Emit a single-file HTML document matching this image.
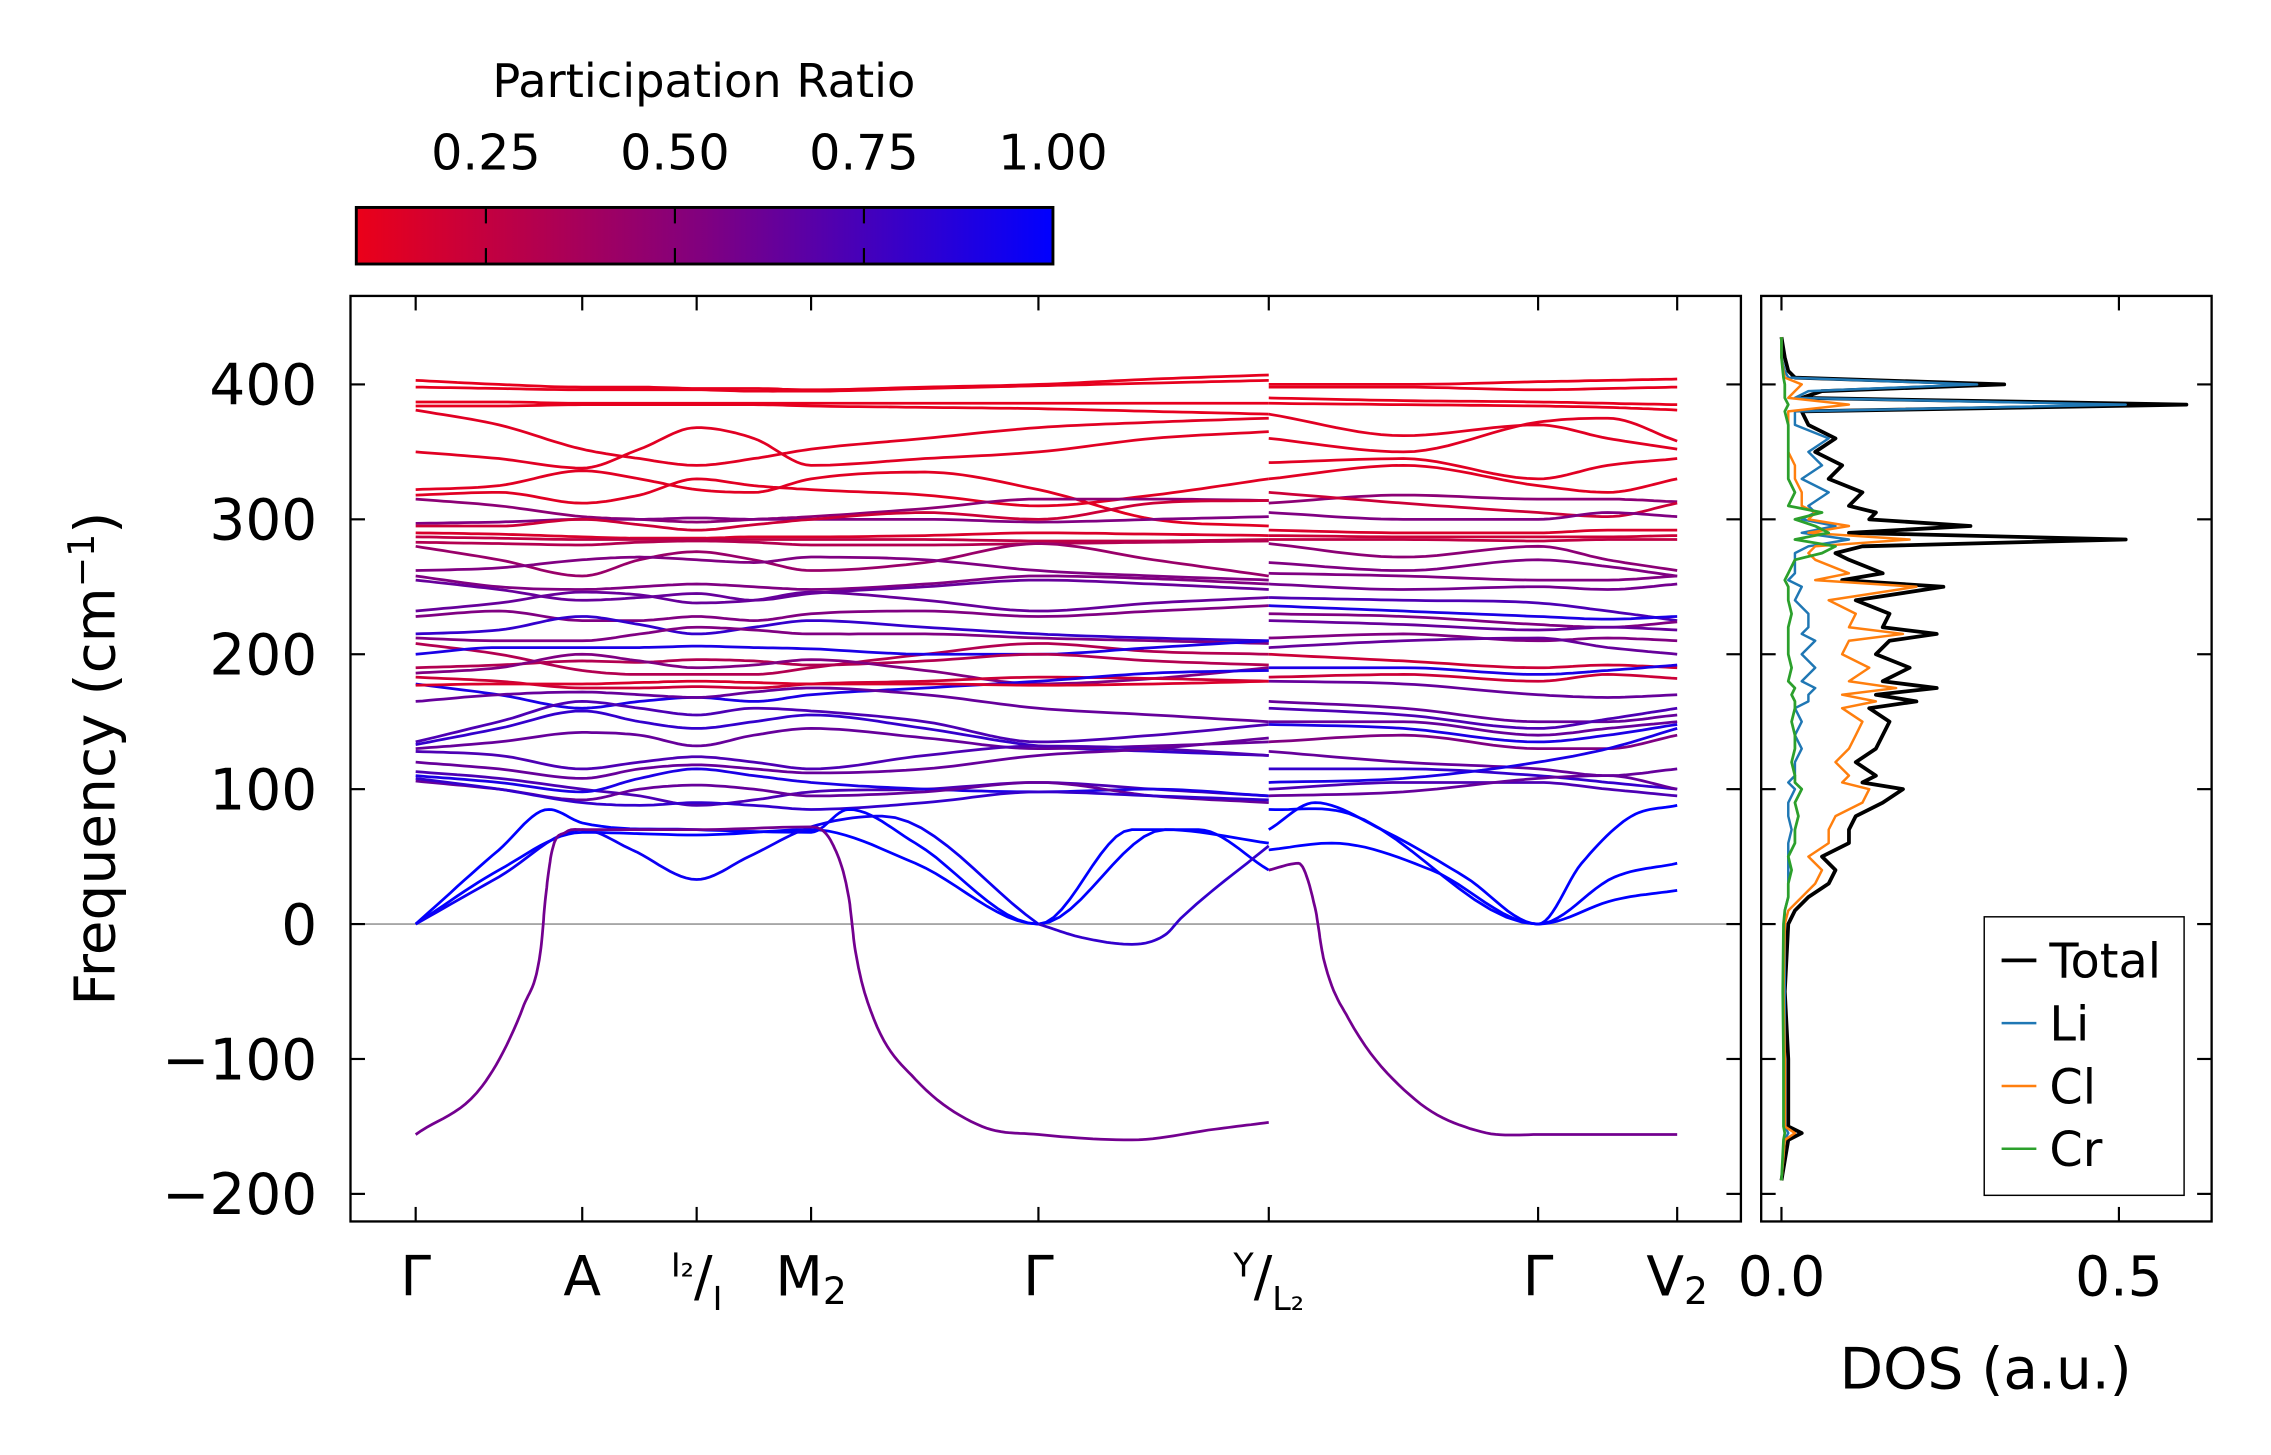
<!DOCTYPE html>
<html><head><meta charset="utf-8"><style>
html,body{margin:0;padding:0;background:#fff;}
svg{display:block;font-family:"DejaVu Sans","Liberation Sans",sans-serif;}
</style></head>
<body>
<svg id="fig" width="2271" height="1455" viewBox="0 0 1568 1003" preserveAspectRatio="none" xmlns="http://www.w3.org/2000/svg">
<defs>
<linearGradient id="cbg" x1="0" x2="1" y1="0" y2="0">
<stop offset="0" stop-color="#eb0019"/><stop offset="0.5" stop-color="#800080"/><stop offset="1" stop-color="#0000ff"/>
</linearGradient>
<clipPath id="mainclip"><rect x="242" y="204" width="960" height="638"/></clipPath>
<clipPath id="dosclip"><rect x="1216" y="204" width="311" height="638"/></clipPath>
</defs>
<g>
<text x="486" y="67" font-size="32" text-anchor="middle">Participation Ratio</text>
<rect x="246" y="143" width="481" height="39" fill="url(#cbg)" stroke="#000" stroke-width="2"/>
<g id="cbticks"></g>
</g>
<g id="main"></g>
<g id="dos"></g>
</svg>
<script>
// ---------- data ----------
const cbTicks = [0.25, 0.50, 0.75, 1.00];
const cbLabels = ["0.25", "0.50", "0.75", "1.00"];
const yTicks = [-200, -100, 0, 100, 200, 300, 400];
const yTickLabels = ["\u2212200", "\u2212100", "0", "100", "200", "300", "400"];
const kTicks = [0, 1.0, 1.687, 2.374, 3.739, 5.122, 6.739, 7.574];
const kLeft = [0, 0.5, 1.0, 1.344, 1.687, 2.03, 2.374, 3.057, 3.739, 4.43, 5.122];
const kRight = [5.122, 5.93, 6.739, 7.157, 7.574];
const bandsLeft = [
[403,400,398,398,397,397,396,398,400,404,407],
[398,397,396,396,396,395,395,397,399,401,403],
[387,387,386,386,386,386,386,386,386,386,386],
[384,384,385,385,385,385,384,383,382,380,378],
[381,370,352,345,340,345,352,360,368,372,375],
[350,345,338,352,368,360,340,345,350,360,365],
[322,325,336,330,322,320,330,335,322,300,295],
[318,320,312,318,330,325,322,318,310,318,330],
[315,310,302,300,298,300,302,308,315,315,314],
[297,298,300,300,301,300,300,300,298,300,302],
[295,295,300,296,292,296,300,305,300,312,314],
[290,289,287,286,286,287,287,288,290,289,288],
[287,286,285,285,285,285,285,285,284,284,285],
[283,282,281,283,284,283,281,281,282,283,284],
[280,270,258,270,276,270,262,268,282,270,258],
[262,264,270,272,270,268,272,270,262,258,255],
[258,250,248,250,252,250,248,252,258,256,252],
[255,248,240,242,245,240,245,250,255,252,248],
[232,238,246,244,238,240,246,240,232,238,242],
[228,232,225,225,228,225,230,232,228,232,236],
[215,218,228,222,215,220,225,220,215,212,210],
[212,210,210,215,220,218,215,215,212,210,208],
[208,200,188,185,185,185,190,200,208,202,200],
[200,205,205,205,206,205,204,200,200,205,210],
[190,192,195,194,196,195,192,195,200,195,192],
[186,190,200,195,190,192,196,188,178,182,190],
[183,180,175,175,176,175,178,180,183,182,180],
[178,170,160,165,168,165,170,175,180,186,188],
[177,178,178,179,180,179,178,178,177,178,180],
[165,170,172,170,168,172,175,170,160,155,150],
[135,150,165,160,155,160,158,150,135,140,148],
[133,145,158,150,145,150,155,145,132,128,125],
[130,135,142,140,132,140,145,138,130,132,135],
[128,125,115,120,124,120,115,125,132,130,125],
[120,115,108,115,118,115,112,115,125,130,138],
[113,108,100,95,88,92,98,100,105,100,95],
[110,105,98,108,115,110,105,100,98,100,95],
[106,100,92,100,103,100,95,98,105,95,90],
[108,100,90,88,90,88,85,90,98,95,92]
];
const ratioLeft = [.1,.1,.1,.1,.12,.12,.12,.12,.45,.5,.2,.15,.25,.3,.4,.5,.5,.6,.6,.5,.8,.5,.3,.9,.3,.5,.2,.9,.15,.6,.7,.8,.6,.7,.6,.7,.9,.6,.8];
const bandsRight = [
[400,400,402,403,404],[398,398,396,397,398],[390,388,387,386,385],[386,385,384,383,381],
[378,362,370,360,352],[360,350,372,375,358],[342,345,330,340,345],[330,340,325,320,330],
[312,318,315,315,313],[320,312,305,302,312],[305,300,300,305,302],[292,290,290,292,292],
[288,287,287,287,288],[285,285,284,285,285],[282,272,280,270,262],[268,262,270,265,258],
[260,258,255,255,258],[252,248,250,248,252],[242,240,238,232,225],[236,232,228,226,228],
[230,228,222,220,224],[225,222,218,220,218],[212,215,210,212,210],[205,210,212,205,200],
[200,195,190,192,190],[190,190,185,188,192],[183,185,180,185,182],[180,178,170,168,170],
[165,160,150,150,155],[160,155,145,152,160],[150,150,140,145,150],[148,145,135,140,148],
[135,140,130,130,140],[128,120,115,110,115],[115,115,110,105,100],[105,108,120,130,145],
[100,105,105,100,95],[95,98,108,110,100]
];
const ratioRight = [.1,.1,.1,.1,.12,.12,.12,.12,.45,.2,.5,.15,.2,.25,.45,.5,.5,.55,.7,.9,.5,.6,.5,.6,.2,.9,.2,.6,.6,.7,.6,.9,.5,.6,.8,.9,.7,.6];
// special branches: [k, frequency] pairs
const imagLeft = [[0,-156],[0.4,-120],[0.65,-60],[0.75,-20],[0.78,20],[0.82,55],[0.9,68],[1.0,70],[1.687,70],[2.374,72],[2.5,60],[2.6,20],[2.64,-20],[2.75,-70],[3.0,-115],[3.4,-150],[3.739,-156],[4.3,-160],[4.8,-152],[5.122,-147]];
const imagRight = [[5.122,40],[5.3,45],[5.4,12],[5.45,-25],[5.6,-70],[6.0,-130],[6.4,-154],[6.739,-156],[7.574,-156]];
const acLeft1 = [[0,0],[0.5,55],[0.8,85],[1.0,75],[1.687,70],[2.374,68],[2.6,85],[3.0,60],[3.739,0],[4.3,70],[4.7,70],[5.122,40]];
const acLeft2 = [[0,0],[0.5,40],[1.0,68],[1.687,66],[2.374,70],[3.0,45],[3.739,0],[4.5,70],[5.122,60]];
const acLeft3 = [[0,0],[0.5,35],[1.0,70],[1.3,55],[1.687,33],[2.0,50],[2.374,72],[2.8,80],[3.739,0]];
const acLeft4 = [[3.739,0],[4.0,-10],[4.3,-15],[4.5,-8],[4.6,5],[5.122,58]];
const acRight1 = [[5.122,70],[5.4,90],[5.8,70],[6.3,35],[6.739,0],[7.0,45],[7.3,80],[7.574,88]];
const acRight2 = [[5.122,55],[5.5,60],[6.1,40],[6.739,0],[7.2,35],[7.574,45]];
const acRight3 = [[5.122,85],[5.6,82],[6.739,0],[7.2,18],[7.574,25]];
// DOS
const dosFreq = [-190,-160,-155,-150,-100,-50,0,10,20,30,40,50,60,70,80,90,100,105,110,120,130,140,150,160,165,170,175,180,190,200,210,215,220,230,240,250,255,260,270,275,280,285,290,295,300,305,310,320,330,340,350,360,370,380,385,390,395,400,405,410,420,435];
const dosTotal = [0,.01,.03,.01,.01,.005,.01,.02,.04,.07,.08,.06,.1,.1,.11,.15,.18,.12,.14,.11,.14,.15,.16,.13,.2,.14,.23,.15,.19,.14,.16,.23,.15,.16,.11,.24,.09,.15,.1,.08,.12,.51,.1,.28,.13,.14,.1,.12,.07,.09,.05,.08,.04,.03,.6,.03,.06,.33,.02,.01,.005,0];
const dosLi = [0,.005,.01,.005,.005,.005,.005,.005,.01,.01,.01,.01,.01,.015,.01,.01,.02,.01,.02,.02,.03,.02,.03,.02,.04,.04,.05,.03,.05,.03,.05,.03,.04,.04,.02,.03,.01,.02,.02,.02,.04,.1,.03,.08,.03,.05,.04,.07,.03,.06,.04,.07,.02,.02,.51,.02,.04,.29,.01,.005,0,0];
const dosCl = [0,.005,.02,.005,.005,.003,.005,.01,.03,.05,.06,.04,.07,.07,.08,.12,.13,.09,.1,.08,.1,.11,.12,.09,.14,.09,.17,.1,.13,.09,.1,.18,.1,.11,.07,.2,.05,.1,.05,.04,.05,.19,.04,.1,.04,.05,.03,.03,.02,.02,.01,.01,.01,.01,.1,.01,.02,.03,.005,.003,0,0];
const dosCr = [0,.003,.005,.003,.003,.002,.003,.005,.01,.01,.015,.01,.02,.02,.025,.02,.03,.02,.02,.015,.02,.02,.015,.02,.02,.015,.02,.01,.015,.01,.01,.01,.01,.015,.01,.01,.005,.01,.02,.06,.08,.02,.07,.05,.02,.06,.01,.02,.01,.01,.01,.01,.01,.005,.01,.005,.005,.005,.003,.002,0,0];
const dosTicks = [0, 0.5];
const dosTickLabels = ["0.0", "0.5"];
const legendNames = ["Total", "Li", "Cl", "Cr"];

// ---------- helpers ----------
const NS = "http://www.w3.org/2000/svg";
function mk(tag, attrs, parent) { const e = document.createElementNS(NS, tag); for (const k in attrs) e.setAttribute(k, attrs[k]); parent.appendChild(e); return e; }
const X0 = 287, X1 = 1158, KMAX = 7.574;
function xk(k) { return X0 + (X1 - X0) * k / KMAX; }
function yf(f) { return 637 - 0.93 * f; }
function ratioColor(r) {
  const t = Math.max(0, Math.min(1, (r - 0.08) / 0.92));
  return `rgb(${Math.round(235 * (1 - t))},0,${Math.round(25 + 230 * t)})`;
}
function monotone(xs, ys, n) {
  const m = xs.length, d = [], s = [];
  for (let i = 0; i < m - 1; i++) d.push((ys[i + 1] - ys[i]) / (xs[i + 1] - xs[i]));
  for (let i = 0; i < m; i++) {
    if (i === 0) s.push(d[0]); else if (i === m - 1) s.push(d[m - 2]);
    else s.push(d[i - 1] * d[i] <= 0 ? 0 : (d[i - 1] + d[i]) / 2);
  }
  const pts = [];
  for (let i = 0; i < m - 1; i++) {
    const h = xs[i + 1] - xs[i];
    for (let j = 0; j < n; j++) {
      const t = j / n, t2 = t * t, t3 = t2 * t;
      const y = (2 * t3 - 3 * t2 + 1) * ys[i] + (t3 - 2 * t2 + t) * h * s[i] + (-2 * t3 + 3 * t2) * ys[i + 1] + (t3 - t2) * h * s[i + 1];
      pts.push([xs[i] + t * h, y]);
    }
  }
  pts.push([xs[m - 1], ys[m - 1]]);
  return pts;
}
function drawBand(g, ks, fs, ratio, name) {
  const pts = monotone(ks, fs, 12);
  const d = pts.map((p, i) => (i ? "L" : "M") + xk(p[0]).toFixed(1) + "," + yf(p[1]).toFixed(1)).join("");
  const p = mk("path", { d: d, fill: "none", stroke: ratioColor(ratio), "stroke-width": 1.9 }, g);
  
  
}

// ---------- colorbar ticks ----------
const cbg = document.getElementById("cbticks");
function xcb(v) { return 727 - (1 - v) * 522; }
cbTicks.forEach((v, i) => {
  if (v < 1) {
    const t1 = mk("line", { x1: xcb(v), x2: xcb(v), y1: 143, y2: 154, stroke: "#000", "stroke-width": 1.5 }, cbg);
    
    
    const t2 = mk("line", { x1: xcb(v), x2: xcb(v), y1: 171, y2: 182, stroke: "#000", "stroke-width": 1.5 }, cbg);
    
    
  }
  const tx = mk("text", { x: xcb(v), y: 117, "font-size": 34, "text-anchor": "middle" }, cbg);
  
  
  tx.textContent = cbLabels[i];
});

// ---------- main panel ----------
const main = document.getElementById("main");
const bandG = mk("g", { "clip-path": "url(#mainclip)" }, main);


const zl = mk("line", { x1: 242, x2: 1202, y1: yf(0), y2: yf(0), stroke: "#999", "stroke-width": 1.2 }, bandG);


bandsLeft.forEach((b, i) => drawBand(bandG, kLeft, b, ratioLeft[i], "band-left-" + i));
bandsRight.forEach((b, i) => drawBand(bandG, kRight, b, ratioRight[i], "band-right-" + i));
[[acLeft1, 1], [acLeft2, 1], [acLeft3, 0.95], [acLeft4, 0.8], [acRight1, 1], [acRight2, 1], [acRight3, 1]].forEach((a, i) =>
  drawBand(bandG, a[0].map(p => p[0]), a[0].map(p => p[1]), a[1], "acoustic-branch-" + i));
drawBand(bandG, imagLeft.map(p => p[0]), imagLeft.map(p => p[1]), 0.55, "imaginary-branch-left");
drawBand(bandG, imagRight.map(p => p[0]), imagRight.map(p => p[1]), 0.55, "imaginary-branch-right");
const frame = mk("rect", { x: 242, y: 204, width: 960, height: 638, fill: "none", stroke: "#000", "stroke-width": 1.6 }, main);


yTicks.forEach((v, i) => {
  const a = mk("line", { x1: 242, x2: 252, y1: yf(v), y2: yf(v), stroke: "#000", "stroke-width": 1.5 }, main);
  
  
  const b = mk("line", { x1: 1192, x2: 1202, y1: yf(v), y2: yf(v), stroke: "#000", "stroke-width": 1.5 }, main);
  
  
  const t = mk("text", { x: 219, y: yf(v) + 14, "font-size": 39, "text-anchor": "end" }, main);
  
  
  t.textContent = yTickLabels[i];
});
kTicks.forEach(k => {
  const a = mk("line", { x1: xk(k), x2: xk(k), y1: 204, y2: 214, stroke: "#000", "stroke-width": 1.5 }, main);
  
  
  const b = mk("line", { x1: xk(k), x2: xk(k), y1: 832, y2: 842, stroke: "#000", "stroke-width": 1.5 }, main);
  
  
});
</script>
<script>
(function () {
  const main = document.getElementById("main");
  const lab = document.createElementNS("http://www.w3.org/2000/svg", "g");
  lab.innerHTML =
    '<text x="287" y="893" font-size="38" text-anchor="middle">Γ</text>' +
    '<text x="402" y="893" font-size="38" text-anchor="middle">A</text>' +
    '<text x="481" y="893" font-size="38" text-anchor="middle"><tspan font-size="23" dy="-13">I₂</tspan><tspan dy="13">/</tspan><tspan font-size="23" dy="10">I</tspan></text>' +
    '<text x="560" y="893" font-size="38" text-anchor="middle">M<tspan font-size="26" dy="6">2</tspan></text>' +
    '<text x="717" y="893" font-size="38" text-anchor="middle">Γ</text>' +
    '<text x="876" y="893" font-size="38" text-anchor="middle"><tspan font-size="23" dy="-13">Y</tspan><tspan dy="13">/</tspan><tspan font-size="23" dy="10">L₂</tspan></text>' +
    '<text x="1062" y="893" font-size="38" text-anchor="middle">Γ</text>' +
    '<text x="1158" y="893" font-size="38" text-anchor="middle">V<tspan font-size="26" dy="6">2</tspan></text>' +
    '<text transform="translate(79,523) rotate(-90)" font-size="39" text-anchor="middle">Frequency (cm<tspan font-size="25" dy="-14">−1</tspan><tspan dy="14">)</tspan></text>';
  
  
  main.appendChild(lab);

  const dos = document.getElementById("dos");
  const NS = "http://www.w3.org/2000/svg";
  function mk(tag, attrs, parent) { const e = document.createElementNS(NS, tag); for (const k in attrs) e.setAttribute(k, attrs[k]); parent.appendChild(e); return e; }
  function yf(f) { return 637 - 0.93 * f; }
  function xd(d) { return 1230 + 466 * d; }
  const curves = mk("g", { "clip-path": "url(#dosclip)" }, dos);
  
  
  const series = [[dosTotal, "#000000", 2.6, "dos-total"], [dosLi, "#1f77b4", 1.7, "dos-li"], [dosCl, "#ff7f0e", 1.7, "dos-cl"], [dosCr, "#2ca02c", 1.9, "dos-cr"]];
  series.forEach(s => {
    const d = dosFreq.map((f, i) => (i ? "L" : "M") + xd(s[0][i]).toFixed(1) + "," + yf(f).toFixed(1)).join("");
    const p = mk("path", { d: d, fill: "none", stroke: s[1], "stroke-width": s[2], "stroke-linejoin": "round" }, curves);
    
    
  });
  const fr = mk("rect", { x: 1216, y: 204, width: 311, height: 638, fill: "none", stroke: "#000", "stroke-width": 1.6 }, dos);
  
  
  yTicks.forEach(v => {
    const a = mk("line", { x1: 1216, x2: 1226, y1: yf(v), y2: yf(v), stroke: "#000", "stroke-width": 1.5 }, dos);
    
    
    const b = mk("line", { x1: 1517, x2: 1527, y1: yf(v), y2: yf(v), stroke: "#000", "stroke-width": 1.5 }, dos);
    
    
  });
  dosTicks.forEach((v, i) => {
    const a = mk("line", { x1: xd(v), x2: xd(v), y1: 204, y2: 214, stroke: "#000", "stroke-width": 1.5 }, dos);
    
    
    const b = mk("line", { x1: xd(v), x2: xd(v), y1: 832, y2: 842, stroke: "#000", "stroke-width": 1.5 }, dos);
    
    
    const t = mk("text", { x: xd(v), y: 893, "font-size": 38, "text-anchor": "middle" }, dos);
    
    
    t.textContent = dosTickLabels[i];
  });
  const xt = mk("text", { x: 1371, y: 957, "font-size": 39, "text-anchor": "middle" }, dos);
  
  
  xt.textContent = "DOS (a.u.)";
  const lg = mk("g", {}, dos);
  
  
  const box = mk("rect", { x: 1370, y: 632, width: 138, height: 192, fill: "#fff", stroke: "#000", "stroke-width": 1 }, lg);
  
  
  legendNames.forEach((n, i) => {
    const yy = 662 + i * 43.3;
    const l = mk("line", { x1: 1382, x2: 1406, y1: yy, y2: yy, stroke: series[i][1], "stroke-width": i === 0 ? 2.6 : 1.7 }, lg);
    
    
    const t = mk("text", { x: 1415, y: yy + 12, "font-size": 33 }, lg);
    
    
    t.textContent = n;
  });
})();
</script>
</body></html>
